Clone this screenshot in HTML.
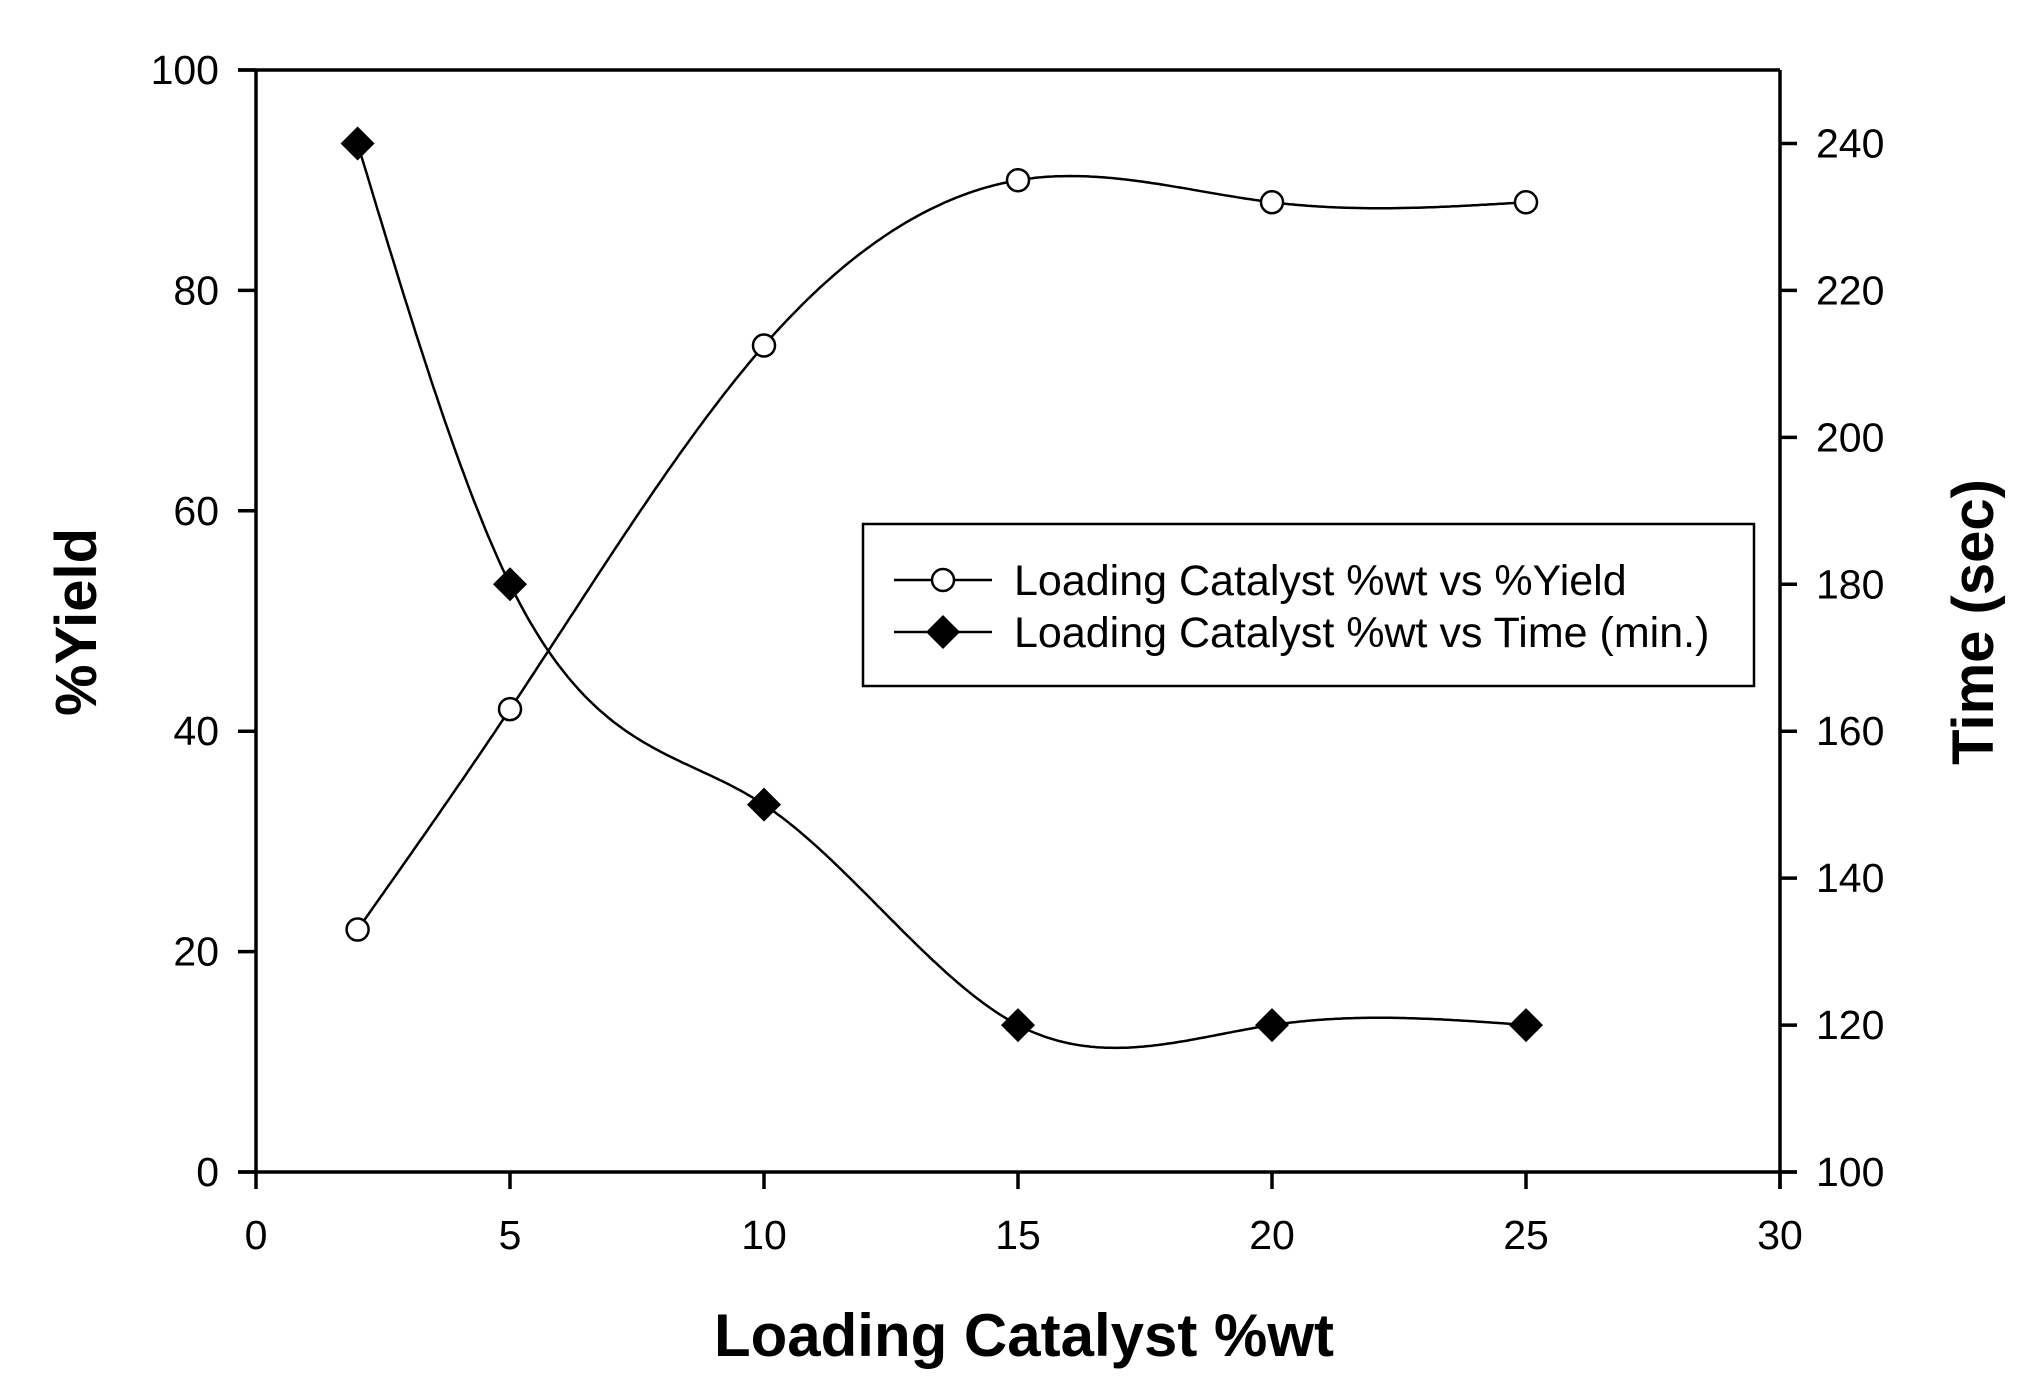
<!DOCTYPE html>
<html><head><meta charset="utf-8"><style>
html,body{margin:0;padding:0;background:#fff}
svg{display:block;font-family:"Liberation Sans",Arial,sans-serif}
</style></head><body>
<svg id="chart" width="2030" height="1390" xmlns="http://www.w3.org/2000/svg"></svg>
<script>
const xCats = [2,5,10,15,20,25];
const yieldVals = [22,42,75,90,88,88];
const timeVals = [240,180,150,120,120,120];
const xTicks = [0,5,10,15,20,25,30];
const yTicks = [0,20,40,60,80,100];
const y2Ticks = [100,120,140,160,180,200,220,240];

const L=256,R=1780,T=70,B=1172;
const sx=v=>L+(v-0)/30*(R-L);
const sy=v=>B-(v-0)/100*(B-T);
const sy2=v=>B-(v-100)/150*(B-T);
const NS="http://www.w3.org/2000/svg";
const svg=document.getElementById('chart');
function mk(tag,attrs,parent){const e=document.createElementNS(NS,tag);for(const k in attrs)e.setAttribute(k,attrs[k]);(parent||svg).appendChild(e);return e;}

function spline(xs,ys){
  const n=xs.length,h=[],a=[],l=[1],mu=[0],z=[0],c=new Array(n).fill(0),b=[],d=[];
  for(let i=0;i<n-1;i++)h[i]=xs[i+1]-xs[i];
  for(let i=1;i<n-1;i++)a[i]=3/h[i]*(ys[i+1]-ys[i])-3/h[i-1]*(ys[i]-ys[i-1]);
  for(let i=1;i<n-1;i++){l[i]=2*(xs[i+1]-xs[i-1])-h[i-1]*mu[i-1];mu[i]=h[i]/l[i];z[i]=(a[i]-h[i-1]*z[i-1])/l[i];}
  l[n-1]=1;z[n-1]=0;
  for(let j=n-2;j>=0;j--){c[j]=z[j]-mu[j]*c[j+1];b[j]=(ys[j+1]-ys[j])/h[j]-h[j]*(c[j+1]+2*c[j])/3;d[j]=(c[j+1]-c[j])/(3*h[j]);}
  return x=>{let j=0;while(j<n-2&&x>xs[j+1])j++;const t=x-xs[j];return ys[j]+b[j]*t+c[j]*t*t+d[j]*t*t*t;};
}

const ax=mk('g',{});


mk('line',{x1:L,y1:T,x2:L,y2:B,stroke:'#000','stroke-width':3.5},ax);
mk('line',{x1:R,y1:T,x2:R,y2:B+17,stroke:'#000','stroke-width':3.5},ax);
mk('line',{x1:L-18,y1:T,x2:R,y2:T,stroke:'#000','stroke-width':3.5},ax);
mk('line',{x1:L-18,y1:B,x2:R+17,y2:B,stroke:'#000','stroke-width':3.5},ax);

xTicks.forEach(v=>{
  mk('line',{x1:sx(v),y1:B,x2:sx(v),y2:B+17,stroke:'#000','stroke-width':3.5},ax);
  const t=mk('text',{x:sx(v),y:1249,'font-size':41,'text-anchor':'middle'});t.textContent=v;
  
  
});
yTicks.forEach(v=>{
  mk('line',{x1:L-18,y1:sy(v),x2:L,y2:sy(v),stroke:'#000','stroke-width':3.5},ax);
  const t=mk('text',{x:219,y:sy(v)+14,'font-size':41,'text-anchor':'end'});t.textContent=v;
  
  
});
y2Ticks.forEach(v=>{
  mk('line',{x1:R,y1:sy2(v),x2:R+17,y2:sy2(v),stroke:'#000','stroke-width':3.5},ax);
  const t=mk('text',{x:1816,y:sy2(v)+14,'font-size':41,'text-anchor':'start'});t.textContent=v;
  
  
});

let t=mk('text',{x:1024,y:1356,'font-size':60,'font-weight':'bold','text-anchor':'middle'});t.textContent='Loading Catalyst %wt';


t=mk('text',{x:0,y:0,'font-size':58,'font-weight':'bold','text-anchor':'middle',transform:'translate(96,622) rotate(-90)'});t.textContent='%Yield';


t=mk('text',{x:0,y:0,'font-size':58,'font-weight':'bold','text-anchor':'middle',transform:'translate(1993,622) rotate(-90)'});t.textContent='Time (sec)';



function curve(vals,scale,name){
  const f=spline(xCats,vals);let d='';
  const x0=xCats[0],x1=xCats[xCats.length-1];
  for(let i=0;i<=400;i++){const x=x0+(x1-x0)*i/400;d+=(i?'L':'M')+sx(x).toFixed(1)+','+scale(f(x)).toFixed(1);}
  const p=mk('path',{d:d,fill:'none',stroke:'#000','stroke-width':2.5});
  
  
}
curve(yieldVals,sy,'yield-line');
curve(timeVals,sy2,'time-line');

yieldVals.forEach((v,i)=>{
  const c=mk('circle',{cx:sx(xCats[i]),cy:sy(v),r:11,fill:'#fff',stroke:'#000','stroke-width':2.5});
  
  
});
timeVals.forEach((v,i)=>{
  const x=sx(xCats[i]),y=sy2(v),s=17;
  const p=mk('polygon',{points:`${x},${y-s} ${x+s},${y} ${x},${y+s} ${x-s},${y}`,fill:'#000'});
  
  
});

const lg=mk('g',{});


mk('rect',{x:863,y:524,width:891,height:162,fill:'#fff',stroke:'#000','stroke-width':2.5},lg);
mk('line',{x1:894,y1:580,x2:992,y2:580,stroke:'#000','stroke-width':2.5},lg);
mk('circle',{cx:943,cy:580,r:11,fill:'#fff',stroke:'#000','stroke-width':2.5},lg);
t=mk('text',{x:1014,y:595,'font-size':43},lg);t.textContent='Loading Catalyst %wt vs %Yield';


mk('line',{x1:894,y1:632,x2:992,y2:632,stroke:'#000','stroke-width':2.5},lg);
mk('polygon',{points:'943,615 960,632 943,649 926,632',fill:'#000'},lg);
t=mk('text',{x:1014,y:647,'font-size':43},lg);t.textContent='Loading Catalyst %wt vs Time (min.)';


</script>
</body></html>
